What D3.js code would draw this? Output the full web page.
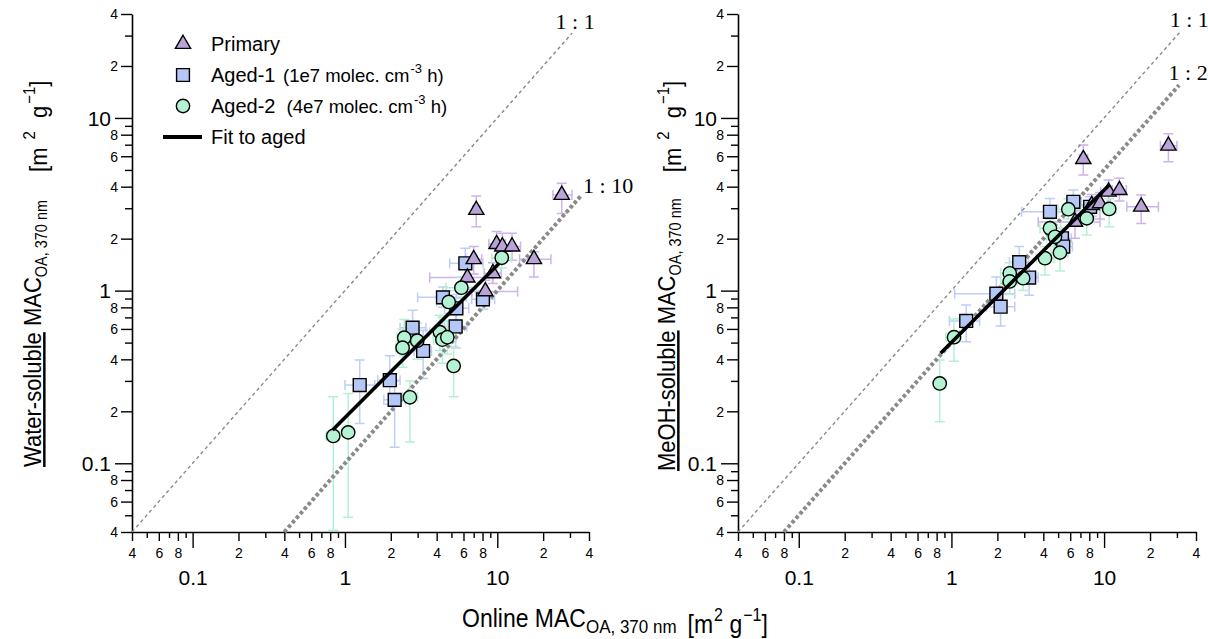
<!DOCTYPE html>
<html>
<head>
<meta charset="utf-8">
<script src="https://cdn.jsdelivr.net/npm/d3@7"></script>
<style>
  body { margin: 0; background: #fff; }
  svg { display: block; }
  text { font-family: "Liberation Sans", Arial, sans-serif; fill: #000; white-space: pre; }
</style>
</head>
<body>
<svg id="chart" width="1208" height="639"></svg>
<script>
// ---------- data: water-soluble extracts ----------
const waterPrimaryX = [7.28, 26.5, 9.9, 10.8, 12.5, 17.4, 7.0, 6.36, 8.35, 9.36];
const waterPrimaryY = [2.93, 3.58, 1.86, 1.8, 1.8, 1.52, 1.52, 1.19, 0.99, 1.26];
const waterPrimaryXErr = [[6.9,7.7],[23.2,30.9],[8.8,11.3],[9.6,12.0],[11.0,14.2],[14.0,22.5],[6.2,7.9],[3.6,9.3],[6.8,13.6],[8.2,10.6]];
const waterPrimaryYErr = [[2.34,3.53],[2.8,4.18],[1.55,2.2],[1.5,2.15],[1.5,2.15],[1.2,1.68],[1.25,1.8],[1.02,1.35],[0.85,1.15],[1.1,1.45]];

const waterAged1X = [6.17, 4.4, 5.39, 5.33, 2.78, 3.26, 1.25, 1.97, 2.12, 8.05];
const waterAged1Y = [1.44, 0.914, 0.79, 0.62, 0.61, 0.447, 0.284, 0.303, 0.233, 0.89];
const waterAged1XErr = [[4.87,8.05],[3.0,6.27],[4.5,6.5],[4.5,6.3],[2.3,3.4],[2.84,3.7],[1.0,1.57],[1.64,2.3],[1.8,2.5],[6.8,9.6]];
const waterAged1YErr = [[1.2,1.76],[0.8,1.05],[0.66,0.95],[0.465,0.74],[0.45,0.77],[0.31,0.59],[0.17,0.397],[0.22,0.42],[0.124,0.30],[0.78,1.0]];

const waterAged2X = [10.7, 5.81, 4.8, 2.45, 2.39, 2.98, 4.2, 4.36, 4.7, 5.17, 2.67, 0.838, 1.05];
const waterAged2Y = [1.55, 1.04, 0.86, 0.534, 0.467, 0.513, 0.575, 0.52, 0.537, 0.366, 0.241, 0.144, 0.151];
const waterAged2XErr = [[9.2,12.4],[4.6,7.3],[4.0,5.8],[2.2,2.75],[2.15,2.65],[2.7,3.3],[3.6,4.9],[3.8,5.0],[4.1,5.4],[4.8,5.6],[2.4,3.0],[0.75,0.92],[0.95,1.15]];
const waterAged2YErr = [[1.35,1.75],[0.9,1.2],[0.74,1.0],[0.42,0.68],[0.36,0.6],[0.4,0.65],[0.45,0.72],[0.38,0.7],[0.43,0.67],[0.243,0.474],[0.133,0.3],[0.041,0.243],[0.0487,0.254]];

const waterFitX = [0.83, 10.3];
const waterFitY = [0.156, 1.44];

// ---------- data: methanol-soluble extracts ----------
const meohPrimaryX = [7.31, 26.4, 10.7, 12.6, 17.5, 8.3, 9.4, 6.45];
const meohPrimaryY = [5.78, 6.9, 3.74, 3.82, 3.06, 3.13, 3.2, 2.5];
const meohPrimaryXErr = [[6.9,7.8],[23.4,30],[9.5,11.8],[11.3,14.0],[14.1,22.7],[6.8,10.5],[8.0,11.0],[3.7,9.4]];
const meohPrimaryYErr = [[4.67,6.97],[5.57,8.1],[3.2,4.37],[3.3,4.47],[2.45,3.58],[2.7,3.6],[2.6,3.7],[2.01,2.9]];

const meohAged1X = [6.29, 4.42, 8.1, 5.3, 5.4, 2.78, 3.23, 1.97, 2.1, 1.25];
const meohAged1Y = [3.27, 2.86, 3.06, 2.01, 1.8, 1.46, 1.19, 0.96, 0.807, 0.667];
const meohAged1XErr = [[5.7,7.1],[2.88,6.6],[7.0,9.5],[4.6,6.1],[4.7,6.2],[2.4,3.2],[2.8,3.7],[1.05,2.6],[1.7,2.6],[0.97,1.53]];
const meohAged1YErr = [[2.8,3.83],[2.4,3.42],[2.7,3.5],[1.75,2.3],[1.6,2.05],[1.25,1.8],[0.94,1.45],[0.85,1.2],[0.624,1.0],[0.506,0.825]];

const meohAged2X = [10.8, 5.83, 7.7, 4.42, 4.77, 4.1, 5.14, 2.41, 2.41, 2.95, 1.04, 0.838];
const meohAged2Y = [2.97, 2.96, 2.62, 2.3, 2.05, 1.54, 1.66, 1.26, 1.13, 1.18, 0.537, 0.29];
const meohAged2XErr = [[9.5,12],[5,7],[6.8,8.6],[3.8,5.2],[4.2,5.4],[3.6,4.7],[4.5,5.8],[2.1,2.7],[2.1,2.7],[2.6,3.3],[0.92,1.15],[0.78,0.92]];
const meohAged2YErr = [[2.34,3.4],[2.6,3.4],[2.1,3.1],[2.0,2.6],[1.8,2.3],[1.23,1.8],[1.3,1.9],[1.1,1.45],[0.95,1.3],[1.0,1.4],[0.39,0.685],[0.174,0.397]];

const meohFitX = [0.85, 10.8];
const meohFitY = [0.434, 4.09];

// ---------- axes: shared log domain, tick labels ----------
const axisDomain = [0.04, 40];
const decadeLabels = { "0.1": "0.1", "1": "1", "10": "10" };
const labeledMantissas = [2, 4, 6, 8];

// reference ratio lines: [ratio, x start, x end, label]
const waterRatioLines = [[1, 0.04, 31, "1 : 1"], [0.1, 0.4, 36, "1 : 10"]];
const meohRatioLines = [[1, 0.04, 32, "1 : 1"], [0.5, 0.08, 31, "1 : 2"]];

// legend
const legendLabels = ["Primary", "Aged-1", "Aged-2", "Fit to aged"];
const legendNotes = ["", "(1e7 molec. cm", "(4e7 molec. cm", ""];

// ---------- drawing ----------
const svg = d3.select("#chart");
const Y_BOTTOM = 532, Y_TOP = 14;

const styles = {
  primary: { fill: "#b9a3d9", err: "#cdb4ec", type: d3.symbolTriangle, size: 100 },
  aged1:   { fill: "#b5c7f6", err: "#c0cef7", type: d3.symbolSquare,   size: 165 },
  aged2:   { fill: "#b3f2d3", err: "#b4f1d4", type: d3.symbolCircle,   size: 140 }
};

const tickValues = [];
[0.01, 0.1, 1, 10].forEach(dec => {
  for (let m = 1; m <= 9; m++) {
    const v = +(m * dec).toPrecision(3);
    if (v >= axisDomain[0] - 1e-9 && v <= axisDomain[1] + 1e-9) tickValues.push(v);
  }
});
const isMajor = d => Math.abs(Math.log10(d) - Math.round(Math.log10(d))) < 1e-6;
const mantissa = d => Math.round(d / Math.pow(10, Math.floor(Math.log10(d) + 1e-9)));
const tickLabel = d => isMajor(d) ? (decadeLabels[String(d)] || "") :
  (labeledMantissas.includes(mantissa(d)) ? String(mantissa(d)) : "");

function drawPanel(p) {
  const x = d3.scaleLog().domain(axisDomain).range(p.xRange);
  const y = d3.scaleLog().domain(axisDomain).range([Y_BOTTOM, Y_TOP]);
  const g = svg.append("g");

  // x axis
  const gx = g.append("g").attr("transform", `translate(0,${Y_BOTTOM})`)
    .call(d3.axisBottom(x).tickValues(tickValues).tickFormat(tickLabel).tickSizeOuter(0));
  gx.select(".domain").attr("stroke", "#000").attr("stroke-width", 1.6);
  gx.selectAll(".tick line").attr("stroke", "#000").attr("stroke-width", 1.4)
    .attr("y2", d => isMajor(d) ? 16 : (tickLabel(d) ? 9 : 6));
  gx.selectAll(".tick text").attr("fill", "#000")
    .attr("y", d => isMajor(d) ? 46 : 21).attr("dy", "0.35em")
    .style("font-size", d => isMajor(d) ? "21px" : "14px");

  // y axis
  const gy = g.append("g").attr("transform", `translate(${p.xRange[0]},0)`)
    .call(d3.axisLeft(y).tickValues(tickValues).tickFormat(tickLabel).tickSizeOuter(0));
  gy.select(".domain").attr("stroke", "#000").attr("stroke-width", 1.6);
  gy.selectAll(".tick line").attr("stroke", "#000").attr("stroke-width", 1.4)
    .attr("x2", d => isMajor(d) ? -17 : (tickLabel(d) ? -11 : -7));
  gy.selectAll(".tick text").attr("fill", "#000")
    .attr("x", d => isMajor(d) ? -21 : -14).attr("dy", "0.35em")
    .style("font-size", d => isMajor(d) ? "21px" : "14px");

  // error bars
  const cap = 5;
  const errG = g.append("g").attr("fill", "none").attr("stroke-width", 1.5);
  p.series.forEach(s => {
    const col = styles[s.kind].err;
    s.x.forEach((xv, i) => {
      const cx = x(xv), cy = y(s.y[i]);
      const [xl, xh] = s.xErr[i], [yl, yh] = s.yErr[i];
      const path = d3.path();
      path.moveTo(cx, y(yl)); path.lineTo(cx, y(yh));
      path.moveTo(cx - cap, y(yl)); path.lineTo(cx + cap, y(yl));
      path.moveTo(cx - cap, y(yh)); path.lineTo(cx + cap, y(yh));
      path.moveTo(x(xl), cy); path.lineTo(x(xh), cy);
      path.moveTo(x(xl), cy - cap); path.lineTo(x(xl), cy + cap);
      path.moveTo(x(xh), cy - cap); path.lineTo(x(xh), cy + cap);
      errG.append("path").attr("d", path.toString()).attr("stroke", col);
    });
  });

  // ratio reference lines
  p.ratios.forEach(([r, x0, x1, label], k) => {
    g.append("line")
      .attr("x1", x(x0)).attr("y1", y(x0 * r)).attr("x2", x(x1)).attr("y2", y(x1 * r))
      .attr("stroke", "#8a8a8a")
      .attr("stroke-width", r === 1 ? 1.4 : 4)
      .attr("stroke-dasharray", r === 1 ? "3.5,3" : "3.5,2.5");
    const o = p.ratioLabelOffsets[k];
    g.append("text")
      .attr("x", x(x1) + o[0]).attr("y", y(x1 * r) + o[1])
      .attr("text-anchor", o[2])
      .style("font-family", "'Liberation Serif', 'Times New Roman', serif")
      .style("font-size", "22px").attr("fill", "#333")
      .text(label);
  });

  // markers
  p.series.forEach(s => {
    const st = styles[s.kind];
    const sym = d3.symbol().type(st.type).size(st.size);
    g.append("g").selectAll("path").data(s.x.map((xv, i) => [xv, s.y[i]])).join("path")
      .attr("d", sym)
      .attr("transform", d => `translate(${x(d[0])},${y(d[1])})`)
      .attr("fill", st.fill).attr("stroke", "#000").attr("stroke-width", 1.4);
  });

  // fit line
  g.append("line")
    .attr("x1", x(p.fitX[0])).attr("y1", y(p.fitY[0]))
    .attr("x2", x(p.fitX[1])).attr("y2", y(p.fitY[1]))
    .attr("stroke", "#000").attr("stroke-width", 3.6);
}

drawPanel({
  xRange: [132, 589],
  series: [
    { kind: "aged1", x: waterAged1X, y: waterAged1Y, xErr: waterAged1XErr, yErr: waterAged1YErr },
    { kind: "primary", x: waterPrimaryX, y: waterPrimaryY, xErr: waterPrimaryXErr, yErr: waterPrimaryYErr },
    { kind: "aged2", x: waterAged2X, y: waterAged2Y, xErr: waterAged2XErr, yErr: waterAged2YErr }
  ],
  ratios: waterRatioLines,
  ratioLabelOffsets: [[3, -4, "middle"], [1, -2, "start"]],
  fitX: waterFitX, fitY: waterFitY
});

drawPanel({
  xRange: [738, 1196],
  series: [
    { kind: "aged1", x: meohAged1X, y: meohAged1Y, xErr: meohAged1XErr, yErr: meohAged1YErr },
    { kind: "primary", x: meohPrimaryX, y: meohPrimaryY, xErr: meohPrimaryXErr, yErr: meohPrimaryYErr },
    { kind: "aged2", x: meohAged2X, y: meohAged2Y, xErr: meohAged2XErr, yErr: meohAged2YErr }
  ],
  ratios: meohRatioLines,
  ratioLabelOffsets: [[8, -4, "middle"], [9, -5, "middle"]],
  fitX: meohFitX, fitY: meohFitY
});

// ---------- legend ----------
const legend = svg.append("g");
const legendKinds = ["primary", "aged1", "aged2", "fit"];
const legendRowY = [44, 75, 106, 137];
const legendNoteGap = [0, 7.5, 11, 0];
legendKinds.forEach((kind, i) => {
  const cy = legendRowY[i];
  if (kind === "fit") {
    legend.append("line").attr("x1", 163).attr("x2", 202).attr("y1", cy).attr("y2", cy)
      .attr("stroke", "#000").attr("stroke-width", 4);
  } else {
    const st = styles[kind];
    legend.append("path").attr("d", d3.symbol().type(st.type).size(st.size)())
      .attr("transform", `translate(183,${cy})`)
      .attr("fill", st.fill).attr("stroke", "#000").attr("stroke-width", 1.4);
  }
  const t = legend.append("text").attr("x", 211).attr("y", cy + 7).style("font-size", "20px");
  t.append("tspan").text(legendLabels[i]);
  if (legendNotes[i]) {
    t.append("tspan").text(legendNotes[i]).attr("dx", legendNoteGap[i]).style("font-size", "18.5px");
    t.append("tspan").text("-3").style("font-size", "13px").attr("dx", 1).attr("dy", -9);
    t.append("tspan").text(" h)").style("font-size", "18.5px").attr("dy", 9);
  }
});

// ---------- axis titles ----------
// gaps: [before "[m", before "2", before "g", before "−1"]
function unitParts(t, gaps, supSize) {
  t.append("tspan").text("[m").attr("dx", gaps[0]);
  t.append("tspan").text("2").style("font-size", supSize).attr("dx", gaps[1]).attr("dy", -10);
  t.append("tspan").text(" g").attr("dx", gaps[2]).attr("dy", 10);
  t.append("tspan").text("\u22121").style("font-size", supSize).attr("dx", gaps[3]).attr("dy", -10);
  t.append("tspan").text("]").attr("dy", 10);
}

function axisTitle(transform, size, subSize, parts, gaps, supSize) {
  const t = svg.append("text").attr("transform", transform).style("font-size", size);
  parts.forEach(pt => {
    const s = t.append("tspan").text(pt.text);
    if (pt.underline) s.attr("text-decoration", "underline");
    if (pt.sub) s.style("font-size", subSize).attr("dy", 5);
  });
  t.append("tspan").attr("dy", -5).text("");
  unitParts(t, gaps, supSize);
}

axisTitle("translate(41,467) rotate(-90) scale(1,1.12)", "22px", "14.5px",
  [{ text: "Water-soluble", underline: true }, { text: " MAC" }, { text: "OA, 370 nm", sub: true }],
  [28, 8, 7, 2], "15px");

axisTitle("translate(675,471) rotate(-90) scale(1,1.12)", "22px", "14.5px",
  [{ text: "MeOH-soluble", underline: true }, { text: " MAC" }, { text: "OA, 370 nm", sub: true }],
  [26, 8, 7, 2], "15px");

axisTitle("translate(462,627) scale(1,1.12)", "23px", "17px",
  [{ text: "Online MAC" }, { text: "OA, 370 nm", sub: true }],
  [11, 1, 0, 1], "16px");
</script>
</body>
</html>
